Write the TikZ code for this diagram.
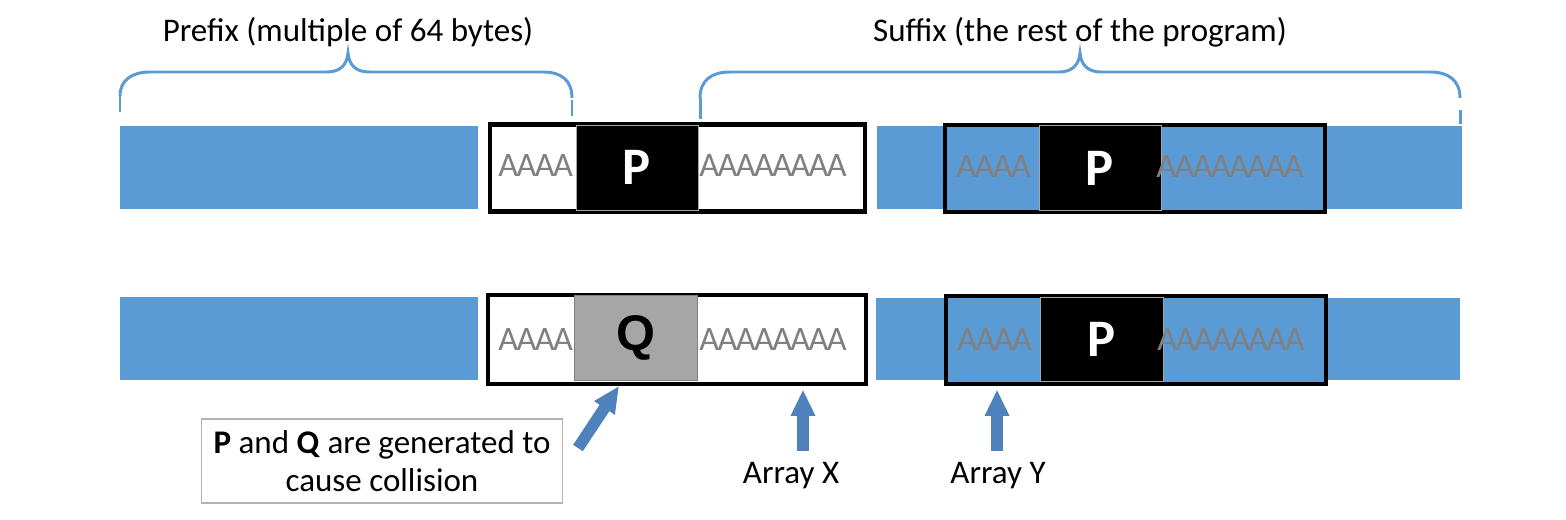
\documentclass[tikz,border=0pt]{standalone}
\usepackage{fontspec}
\setmainfont{Carlito}
\newfontfamily\arialfont{Liberation Sans}
\newfontfamily\afont[LetterSpace=-4.7]{Carlito}
\usetikzlibrary{arrows.meta}

\definecolor{barblue}{HTML}{5B9BD5}
\definecolor{arrowblue}{HTML}{4F81BD}
\definecolor{agray}{HTML}{808080}
\definecolor{qgray}{HTML}{A6A6A6}

\begin{document}
\begin{tikzpicture}[x=0.02cm, y=-0.02cm,
    bar/.style={fill=barblue, inner sep=0pt, minimum width=#1, minimum height=1.66cm},
    arraybox/.style={draw=black, line width=2.3pt, inner sep=0pt, minimum width=#1, minimum height=1.74cm},
    keybox/.style={draw=gray!70, line width=0.5pt, inner sep=0pt, minimum width=2.44cm, minimum height=1.7cm},
    atext/.style={text=agray, font=\afont\fontsize{19.5}{22}\selectfont, inner sep=0pt},
    brace/.style={draw=barblue, line width=1.7pt},
    label/.style={font=\fontsize{18.8}{22}\selectfont, inner sep=1pt},
    blockarr/.style={draw=arrowblue, line width=6.6pt, -{Triangle[width=13pt, length=15pt]}}]
    % Page is 1566 x 520 px, one px = 0.02cm, y runs downwards
    \useasboundingbox (0,0) rectangle (1566,520);

    % Braces over prefix and suffix
    \draw[brace] (120,96) .. controls (120,80) and (132,72) .. (150,72) -- (327,72)
        .. controls (340,72) and (347,65) .. (348,53) .. controls (349,65) and (356,72) .. (369,72)
        -- (543,72) .. controls (561,72) and (572,80) .. (572,98);
    \draw[brace, dash pattern=on 9pt off 4pt] (120,96) -- (120,118) (572,100) -- (572,150);
    \draw[brace] (700,98) .. controls (700,80) and (712,72) .. (730,72) -- (1059,72)
        .. controls (1072,72) and (1079,65) .. (1080,53) .. controls (1081,65) and (1088,72) .. (1101,72)
        -- (1430,72) .. controls (1448,72) and (1460,80) .. (1460,98);
    \draw[brace, dash pattern=on 12pt off 5pt] (700,98) -- (700,138);
    \draw[brace] (1460,110) -- (1460,124);
    \node[label] (prefix) at (348,32) {Prefix (multiple of 64 bytes)};
    \node[label] (suffix) at (1080,32) {Suffix (the rest of the program)};

    % First program
    \node[bar=7.16cm] (pre1) at (299,167.5) {};
    \node[arraybox=7.5cm, fill=white] (arr1) at (677.5,168) {};
    \node[keybox, fill=black] (p1) at (637,167.5) {\textbf{\textcolor{white}{\fontsize{30}{32}\selectfont P}}};
    \node[atext, anchor=west] (a1l) at ([xshift=0.2cm, yshift=0.04cm]arr1.west) {AAAA};
    \node[atext, anchor=east] (a1r) at ([xshift=-0.4cm, yshift=0.04cm]arr1.east) {AAAAAAAA};
    \node[bar=11.7cm] (suf1) at (1169.5,167.5) {};
    \node[arraybox=7.6cm, fill=barblue] (arr2) at (1135,168.5) {};
    \node[keybox, fill=black] (p2) at (1100,168) {\textbf{\textcolor{white}{\fontsize{30}{32}\selectfont P}}};
    \node[atext, anchor=west] (a2l) at ([xshift=0.26cm, yshift=0.04cm]arr2.west) {AAAA};
    \node[atext, anchor=east] (a2r) at ([xshift=-0.46cm, yshift=0.04cm]arr2.east) {AAAAAAAA};

    % Second program
    \node[bar=7.16cm] (pre2) at (299,338.5) {};
    \node[arraybox=7.56cm, minimum height=1.78cm, fill=white] (arr3) at (677,339.5) {};
    \node[keybox, fill=qgray, draw=gray, minimum width=2.46cm] (q) at (635.5,337.5) {\arialfont\bfseries\fontsize{28.5}{30}\selectfont Q};
    \node[atext, anchor=west] (a3l) at ([xshift=0.24cm]arr3.west) {AAAA};
    \node[atext, anchor=east] (a3r) at ([xshift=-0.42cm]arr3.east) {AAAAAAAA};
    \node[bar=11.7cm] (suf2) at (1168,339) {};
    \node[arraybox=7.6cm, minimum height=1.76cm, fill=barblue] (arr4) at (1136,340) {};
    \node[keybox, fill=black, minimum width=2.46cm, minimum height=1.68cm] (p3) at (1101.5,339) {\textbf{\textcolor{white}{\fontsize{30}{32}\selectfont P}}};
    \node[atext, anchor=west] (a4l) at ([xshift=0.26cm]arr4.west) {AAAA};
    \node[atext, anchor=east] (a4r) at ([xshift=-0.46cm]arr4.east) {AAAAAAAA};

    % Notes and arrows
    \node[draw=gray!60, line width=0.6pt, minimum width=7.22cm, minimum height=1.68cm, align=center,
        font=\fontsize{18.8}{22}\selectfont] (note) at (382,461)
        {\textbf{P} and \textbf{Q} are generated to\\cause collision};
    \node[label] (lblx) at (791,476) {Array X};
    \node[label] (lbly) at (998,476) {Array Y};
    \coordinate (tq) at (578,448);
    \coordinate (hq) at (619,386);
    \coordinate (tx) at (803,451);
    \coordinate (ty) at (997,451);
    \draw[blockarr] (tq) -- (hq);
    \draw[blockarr, shorten >=2pt] (tx) -- (tx |- arr3.south);
    \draw[blockarr, shorten >=2pt] (ty) -- (ty |- arr4.south);
\end{tikzpicture}
\end{document}
